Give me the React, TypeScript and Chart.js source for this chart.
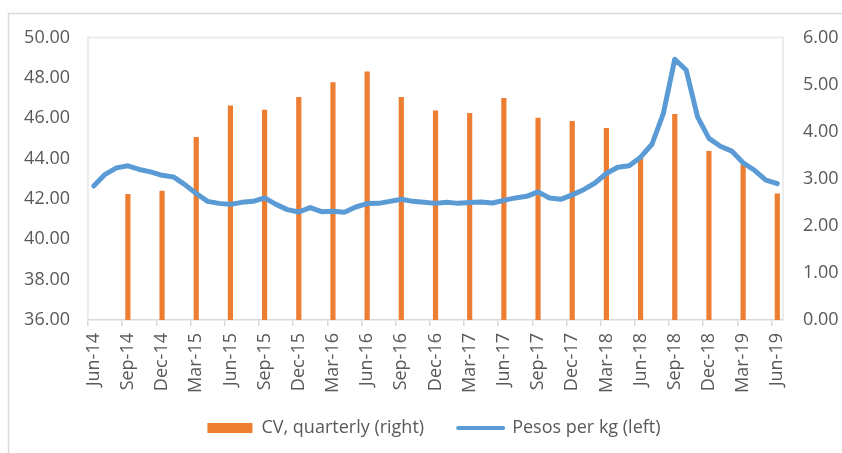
import React, { useEffect, useRef } from "react";
import { Chart, registerables } from "chart.js";

Chart.register(...registerables);

// Monthly categories Jun-14 .. Jun-19
const months: string[] = [
  "Jun-14", "Jul-14", "Aug-14", "Sep-14", "Oct-14", "Nov-14", "Dec-14",
  "Jan-15", "Feb-15", "Mar-15", "Apr-15", "May-15", "Jun-15", "Jul-15", "Aug-15", "Sep-15", "Oct-15", "Nov-15", "Dec-15",
  "Jan-16", "Feb-16", "Mar-16", "Apr-16", "May-16", "Jun-16", "Jul-16", "Aug-16", "Sep-16", "Oct-16", "Nov-16", "Dec-16",
  "Jan-17", "Feb-17", "Mar-17", "Apr-17", "May-17", "Jun-17", "Jul-17", "Aug-17", "Sep-17", "Oct-17", "Nov-17", "Dec-17",
  "Jan-18", "Feb-18", "Mar-18", "Apr-18", "May-18", "Jun-18", "Jul-18", "Aug-18", "Sep-18", "Oct-18", "Nov-18", "Dec-18",
  "Jan-19", "Feb-19", "Mar-19", "Apr-19", "May-19", "Jun-19",
];

// Pesos per kg (left axis), monthly
const pesosPerKg: number[] = [
  42.64, 43.22, 43.54, 43.64, 43.46, 43.34, 43.17,
  43.09, 42.71, 42.27, 41.88, 41.78, 41.73, 41.83, 41.88, 42.05, 41.73, 41.47, 41.35,
  41.57, 41.37, 41.39, 41.34, 41.60, 41.77, 41.78, 41.88, 41.98, 41.88, 41.83, 41.78,
  41.83, 41.78, 41.82, 41.85, 41.80, 41.93, 42.05, 42.13, 42.35, 42.05, 41.98, 42.20,
  42.46, 42.79, 43.26, 43.57, 43.64, 44.07, 44.71, 46.24, 48.92, 48.39, 46.07, 45.00,
  44.61, 44.37, 43.79, 43.42, 42.93, 42.76,
];

// CV, quarterly (right axis)
const cvQuarters: string[] = [
  "Sep-14", "Dec-14", "Mar-15", "Jun-15", "Sep-15", "Dec-15", "Mar-16", "Jun-16",
  "Sep-16", "Dec-16", "Mar-17", "Jun-17", "Sep-17", "Dec-17", "Mar-18", "Jun-18",
  "Sep-18", "Dec-18", "Mar-19", "Jun-19",
];
const cvValues: number[] = [
  2.67, 2.74, 3.88, 4.55, 4.46, 4.73, 5.04, 5.27,
  4.73, 4.44, 4.39, 4.71, 4.29, 4.22, 4.07, 3.47,
  4.37, 3.58, 3.30, 2.68,
];

const leftTicks = { min: 36, max: 50, step: 2 };
const rightTicks = { min: 0, max: 6, step: 1 };

const FONT = "'Open Sans', sans-serif";
const TEXT = "#595959";
const ORANGE = "#ED7D31";
const BLUE = "#5B9BD5";

const bordersPlugin = {
  id: "borders",
  beforeDraw(chart: any) {
    const { ctx, chartArea, width, height } = chart;
    ctx.save();
    // outer chart border (left & top visible)
    ctx.strokeStyle = "#d9d9d9";
    ctx.lineWidth = 1.5;
    ctx.beginPath();
    ctx.moveTo(8.5, height);
    ctx.lineTo(8.5, 13.5);
    ctx.lineTo(width, 13.5);
    ctx.stroke();
    // plot area border
    ctx.strokeStyle = "#e6e6e6";
    ctx.lineWidth = 1.5;
    ctx.beginPath();
    ctx.moveTo(chartArea.left, chartArea.bottom);
    ctx.lineTo(chartArea.left, chartArea.top);
    ctx.lineTo(chartArea.right, chartArea.top);
    ctx.lineTo(chartArea.right, chartArea.bottom);
    ctx.stroke();
    ctx.restore();
  },
};

export default function App() {
  const ref = useRef<HTMLCanvasElement | null>(null);

  useEffect(() => {
    if (!ref.current) return;
    const chart = new Chart(ref.current, {
      type: "bar",
      data: {
        labels: months,
        datasets: [
          {
            type: "bar",
            label: "CV, quarterly (right)",
            data: cvQuarters.map((q, i) => ({ x: q, y: cvValues[i] })) as any,
            backgroundColor: ORANGE,
            borderWidth: 0,
            barThickness: 4.5,
            yAxisID: "yRight",
            order: 1,
          },
          {
            type: "line",
            label: "Pesos per kg (left)",
            data: pesosPerKg,
            borderColor: BLUE,
            backgroundColor: BLUE,
            borderWidth: 5,
            pointRadius: 0,
            tension: 0,
            borderJoinStyle: "round",
            borderCapStyle: "round",
            yAxisID: "yLeft",
            order: 0,
          } as any,
        ],
      },
      options: {
        responsive: false,
        animation: false,
        layout: { padding: { top: 37.5, left: 16, right: -10, bottom: 6 } },
        plugins: {
          tooltip: { enabled: false },
          legend: {
            position: "bottom",
            labels: {
              usePointStyle: true,
              pointStyleWidth: 45,
              boxHeight: 10,
              padding: 20,
              color: TEXT,
              font: { family: FONT, size: 18 },
              generateLabels: () => [
                {
                  text: "CV, quarterly (right)   ",
                  fillStyle: ORANGE,
                  strokeStyle: ORANGE,
                  lineWidth: 0,
                  pointStyle: "rect",
                  fontColor: TEXT,
                  datasetIndex: 0,
                  hidden: false,
                } as any,
                {
                  text: "Pesos per kg (left)",
                  fillStyle: BLUE,
                  strokeStyle: BLUE,
                  lineWidth: 4,
                  lineCap: "round",
                  pointStyle: "line",
                  fontColor: TEXT,
                  datasetIndex: 1,
                  hidden: false,
                } as any,
              ],
            },
          },
        },
        scales: {
          x: {
            type: "category",
            offset: true,
            grid: {
              offset: true,
              drawOnChartArea: false,
              drawTicks: true,
              tickLength: 6,
              lineWidth: 1.5,
              color: (ctx: any) => (ctx.index % 3 === 0 ? "#d9d9d9" : "rgba(0,0,0,0)"),
            },
            border: { display: true, color: "#d9d9d9", width: 1.5 },
            ticks: {
              autoSkip: false,
              minRotation: 90,
              maxRotation: 90,
              padding: 7,
              color: TEXT,
              font: { family: FONT, size: 18 },
              callback: (_v: any, i: number) => (i % 3 === 0 ? months[i] : ""),
            },
            afterFit: (scale: any) => {
              scale.height = 79;
            },
          },
          yLeft: {
            type: "linear",
            position: "left",
            min: leftTicks.min,
            max: leftTicks.max,
            grid: { display: false, drawTicks: false },
            border: { display: false },
            ticks: {
              stepSize: leftTicks.step,
              padding: 18,
              color: TEXT,
              font: { family: FONT, size: 18 },
              callback: (v: any) => Number(v).toFixed(2),
            },
            afterFit: (scale: any) => {
              scale.width = 72;
            },
          },
          yRight: {
            type: "linear",
            position: "right",
            min: rightTicks.min,
            max: rightTicks.max,
            grid: { display: false, drawTicks: false },
            border: { display: false },
            ticks: {
              stepSize: rightTicks.step,
              padding: 20,
              color: TEXT,
              font: { family: FONT, size: 18 },
              callback: (v: any) => Number(v).toFixed(2),
            },
            afterFit: (scale: any) => {
              scale.width = 69;
            },
          },
        },
      },
      plugins: [bordersPlugin],
    });
    return () => chart.destroy();
  }, []);

  return (
    <div style={{ position: "fixed", left: 0, top: 0, width: 842, height: 453, background: "#fff" }}>
      <canvas ref={ref} width={842} height={453} style={{ display: "block" }} />
    </div>
  );
}
